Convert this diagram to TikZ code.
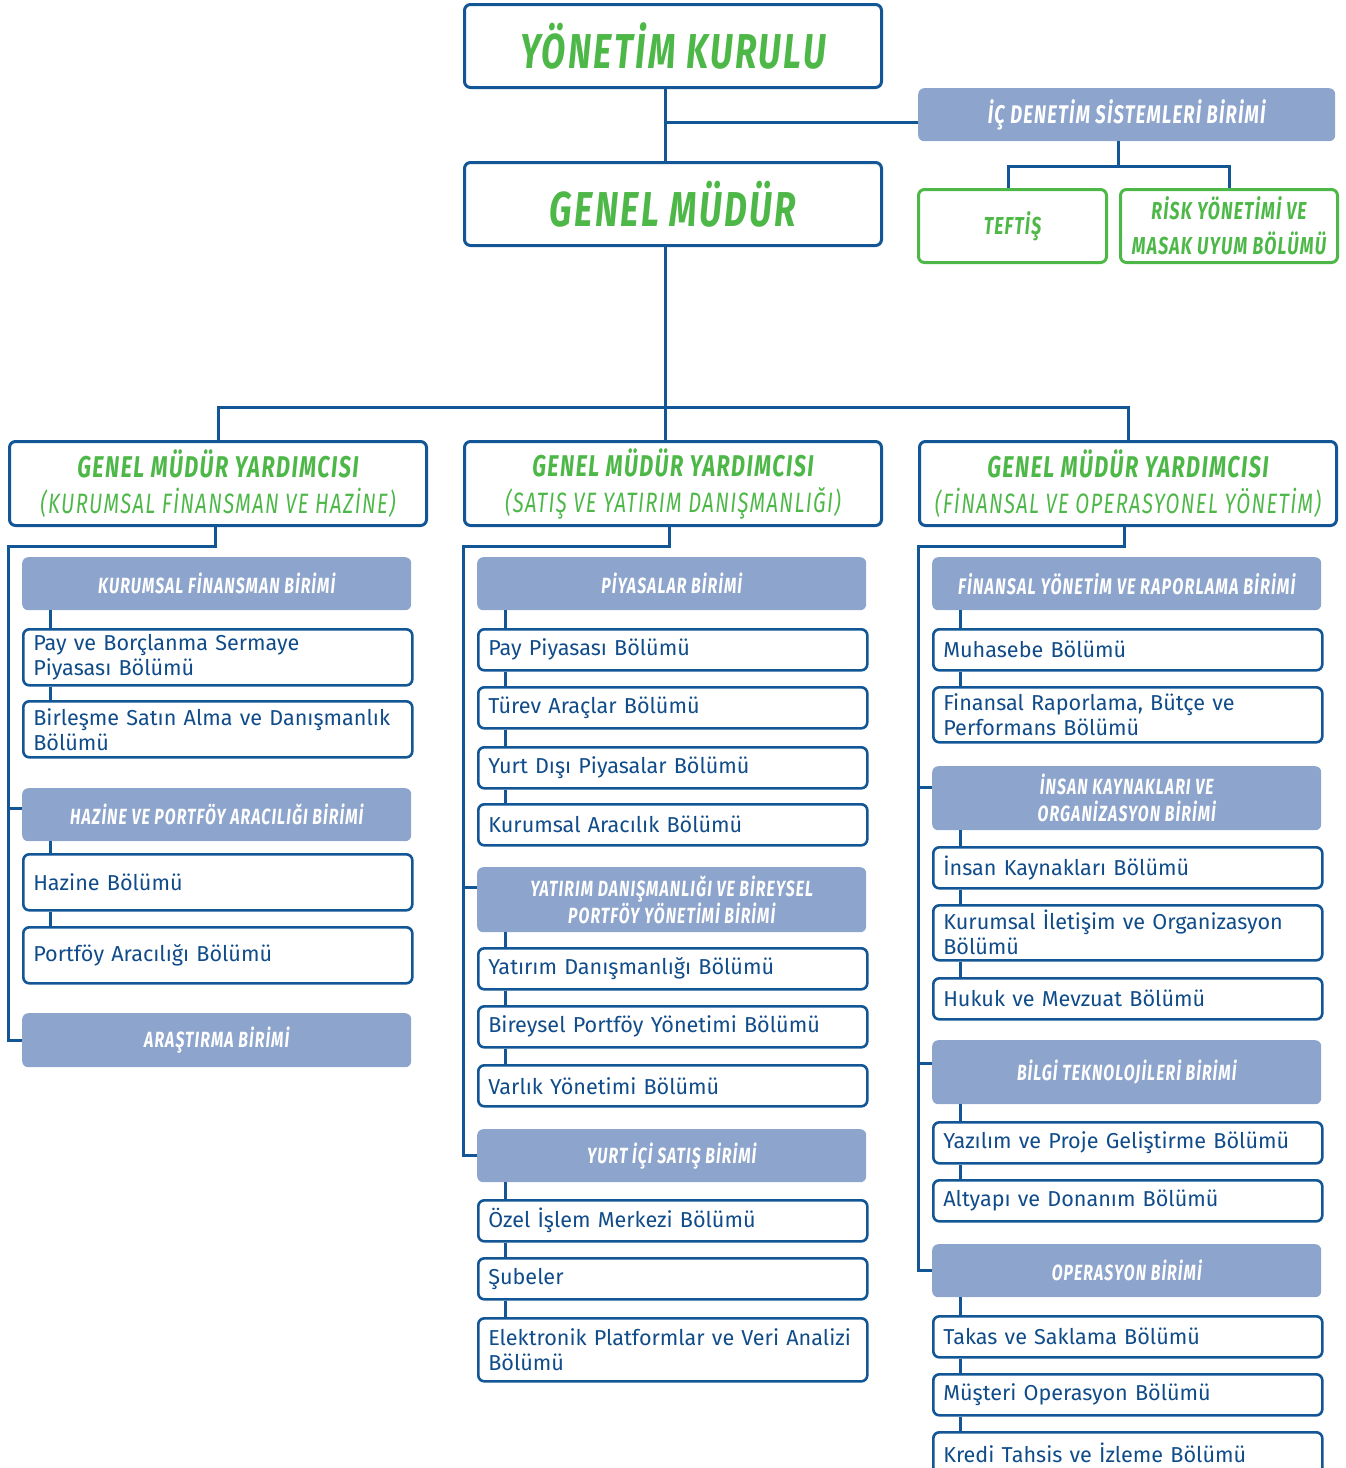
\documentclass[tikz,border=0pt]{standalone}
\usepackage{fontspec}
\setmainfont{Fira Sans}
\newfontfamily\hfont[FakeStretch=0.72,LetterSpace=5]{Fira Sans}
\definecolor{lineblue}{RGB}{18,86,150}
\definecolor{txtblue}{RGB}{16,76,138}
\definecolor{unitfill}{RGB}{141,164,204}
\definecolor{grn}{RGB}{77,184,72}
\tikzset{
  bx/.style={draw=lineblue, line width=3pt, rounded corners=6pt, fill=white, anchor=north west, inner sep=0pt},
  topbox/.style={bx, minimum width=417pt, minimum height=83pt, text=grn, font=\hfont\bfseries\itshape\fontsize{49}{56}\selectfont},
  gmybox/.style={bx, minimum width=417pt, minimum height=84pt, align=center, text=grn, font=\hfont\itshape\fontsize{28}{36}\selectfont},
  unit/.style={fill=unitfill, rounded corners=6pt, anchor=north west, inner sep=0pt, minimum width=389pt, align=center, text=white, font=\hfont\bfseries\itshape\fontsize{22}{27}\selectfont},
  sub/.style={bx, line width=2.6pt, minimum width=389pt, text width=369pt, inner xsep=10pt, align=left, text=txtblue, font=\fontsize{21.6}{25}\selectfont},
  gbox/.style={draw=grn, line width=3pt, rounded corners=6pt, anchor=north west, inner sep=0pt, align=center, text=grn, font=\hfont\bfseries\itshape\fontsize{24.5}{35}\selectfont},
  conn/.style={draw=lineblue, line width=3pt},
}
\begin{document}
\begin{tikzpicture}[x=1pt,y=-1pt]
\clip (0,0) rectangle (1345,1468);
\useasboundingbox (0,0) rectangle (1345,1468);
% top
\node[topbox] (ykb) at (463,3) {YÖNETİM KURULU};
\node[topbox] (gm) at (463,161) {GENEL MÜDÜR};
\node[unit, minimum width=417pt, minimum height=53pt, font=\hfont\bfseries\itshape\fontsize{25.5}{28}\selectfont] (icd) at (918,88) {İÇ DENETİM SİSTEMLERİ BİRİMİ};
\node[gbox, minimum width=188pt, minimum height=73pt] (tef) at (917,188) {TEFTİŞ};
\node[gbox, minimum width=217pt, minimum height=73pt] (risk) at (1119,188) {RİSK YÖNETİMİ VE\\MASAK UYUM BÖLÜMÜ};
% GMY
\node[gmybox] (gmy1) at (8,440) {{\fontsize{30}{36}\selectfont\bfseries GENEL MÜDÜR YARDIMCISI}\\(KURUMSAL FİNANSMAN VE HAZİNE)};
\node[gmybox] (gmy2) at (463,440) {{\fontsize{30}{36}\selectfont\bfseries GENEL MÜDÜR YARDIMCISI}\\(SATIŞ VE YATIRIM DANIŞMANLIĞI)};
\node[gmybox] (gmy3) at (918,440) {{\fontsize{30}{36}\selectfont\bfseries GENEL MÜDÜR YARDIMCISI}\\(FİNANSAL VE OPERASYONEL YÖNETİM)};
% left column
\node[unit, minimum height=53pt] (kfu) at (22,557) {KURUMSAL FİNANSMAN BİRİMİ};
\node[sub, minimum height=56pt] (pb) at (22,628) {Pay ve Borçlanma Sermaye\\Piyasası Bölümü};
\node[sub, minimum height=56pt] (bs) at (22,700) {Birleşme Satın Alma ve Danışmanlık\\Bölümü};
\node[unit, minimum height=53pt] (hpu) at (22,788) {HAZİNE VE PORTFÖY ARACILIĞI BİRİMİ};
\node[sub, minimum height=56pt] (hz) at (22,853) {Hazine Bölümü};
\node[sub, minimum height=56pt] (pa) at (22,926) {Portföy Aracılığı Bölümü};
\node[unit, minimum height=54pt] (aru) at (22,1013) {ARAŞTIRMA BİRİMİ};
% middle column
\node[unit, minimum height=53pt] (piu) at (477,557) {PİYASALAR BİRİMİ};
\node[sub, minimum height=41pt] (pp) at (477,628) {Pay Piyasası Bölümü};
\node[sub, minimum height=41pt] (tv) at (477,686) {Türev Araçlar Bölümü};
\node[sub, minimum height=41pt] (yd) at (477,746) {Yurt Dışı Piyasalar Bölümü};
\node[sub, minimum height=41pt] (ka) at (477,803) {Kurumsal Aracılık Bölümü};
\node[unit, minimum height=65pt] (ydu) at (477,867) {YATIRIM DANIŞMANLIĞI VE BİREYSEL\\PORTFÖY YÖNETİMİ BİRİMİ};
\node[sub, minimum height=41pt] (ydb) at (477,947) {Yatırım Danışmanlığı Bölümü};
\node[sub, minimum height=41pt] (bp) at (477,1005) {Bireysel Portföy Yönetimi Bölümü};
\node[sub, minimum height=41pt] (vy) at (477,1064) {Varlık Yönetimi Bölümü};
\node[unit, minimum height=53pt] (yiu) at (477,1129) {YURT İÇİ SATIŞ BİRİMİ};
\node[sub, minimum height=41pt] (oi) at (477,1199) {Özel İşlem Merkezi Bölümü};
\node[sub, minimum height=41pt] (sb) at (477,1257) {Şubeler};
\node[sub, minimum height=63pt] (el) at (477,1317) {Elektronik Platformlar ve Veri Analizi\\Bölümü};
% right column
\node[unit, minimum height=53pt, font=\hfont\bfseries\itshape\fontsize{22.5}{27}\selectfont] (fyu) at (932,557) {FİNANSAL YÖNETİM VE RAPORLAMA BİRİMİ};
\node[sub, minimum height=41pt] (mh) at (932,628) {Muhasebe Bölümü};
\node[sub, minimum height=55pt] (fr) at (932,686) {Finansal Raporlama, Bütçe ve\\Performans Bölümü};
\node[unit, minimum height=64pt] (iku) at (932,766) {İNSAN KAYNAKLARI VE\\ORGANİZASYON BİRİMİ};
\node[sub, minimum height=41pt] (ik) at (932,846) {İnsan Kaynakları Bölümü};
\node[sub, minimum height=55pt] (ki) at (932,904) {Kurumsal İletişim ve Organizasyon\\Bölümü};
\node[sub, minimum height=41pt] (hk) at (932,977) {Hukuk ve Mevzuat Bölümü};
\node[unit, minimum height=64pt] (btu) at (932,1040) {BİLGİ TEKNOLOJİLERİ BİRİMİ};
\node[sub, minimum height=41pt] (yz) at (932,1121) {Yazılım ve Proje Geliştirme Bölümü};
\node[sub, minimum height=41pt] (al) at (932,1179) {Altyapı ve Donanım Bölümü};
\node[unit, minimum height=53pt] (opu) at (932,1244) {OPERASYON BİRİMİ};
\node[sub, minimum height=41pt] (tk) at (932,1315) {Takas ve Saklama Bölümü};
\node[sub, minimum height=41pt] (ms) at (932,1373) {Müşteri Operasyon Bölümü};
\node[sub, minimum height=41pt] (kr) at (932,1431) {Kredi Tahsis ve İzleme Bölümü};
% connectors: top
\coordinate (trunk) at ([xshift=-8pt]ykb.south);
\coordinate (gmtop) at ([xshift=-8pt]gm.north);
\coordinate (gmbot) at ([xshift=-8pt]gm.south);
\draw[conn] (trunk) -- (gmtop);
\coordinate (icdin) at ([yshift=-8pt]icd.west);
\draw[conn] (icdin) -- (icdin -| trunk);
\coordinate (ib) at ([xshift=-8pt,yshift=-25pt]icd.south);
\draw[conn] ([xshift=-8pt]icd.south) -- (ib);
\draw[conn] ([xshift=-4pt]tef.north) |- (ib) -| (risk.north);
\path (gmbot) ++(0,160) coordinate (bus);
\draw[conn] (gmbot) -- (bus);
\draw[conn] (gmy1.north) |- (bus) -| (gmy3.north);
\draw[conn] (bus) -- (bus |- gmy2.north);
% left spine
\draw[conn] ([xshift=-3pt]gmy1.south) -- ++(0,19) -| (aru.west -| gmy1.west) -- (aru.west);
\coordinate (t1) at ([yshift=6pt]hpu.west);
\draw[conn] (t1 -| gmy1.west) -- (t1);
\draw[conn] ([xshift=28pt]kfu.south west) -- ([xshift=28pt]pb.north west);
\draw[conn] ([xshift=28pt]pb.south west) -- ([xshift=28pt]bs.north west);
\draw[conn] ([xshift=28pt]hpu.south west) -- ([xshift=28pt]hz.north west);
\draw[conn] ([xshift=28pt]hz.south west) -- ([xshift=28pt]pa.north west);
% middle spine
\draw[conn] ([xshift=-4pt]gmy2.south) -- ++(0,19) -| (yiu.west -| gmy2.west) -- (yiu.west);
\coordinate (t2) at ([yshift=12pt]ydu.west);
\draw[conn] (t2 -| gmy2.west) -- (t2);
\draw[conn] ([xshift=28pt]piu.south west) -- ([xshift=28pt]pp.north west);
\draw[conn] ([xshift=28pt]pp.south west) -- ([xshift=28pt]tv.north west);
\draw[conn] ([xshift=28pt]tv.south west) -- ([xshift=28pt]yd.north west);
\draw[conn] ([xshift=28pt]yd.south west) -- ([xshift=28pt]ka.north west);
\draw[conn] ([xshift=28pt]ydu.south west) -- ([xshift=28pt]ydb.north west);
\draw[conn] ([xshift=28pt]ydb.south west) -- ([xshift=28pt]bp.north west);
\draw[conn] ([xshift=28pt]bp.south west) -- ([xshift=28pt]vy.north west);
\draw[conn] ([xshift=28pt]yiu.south west) -- ([xshift=28pt]oi.north west);
\draw[conn] ([xshift=28pt]oi.south west) -- ([xshift=28pt]sb.north west);
\draw[conn] ([xshift=28pt]sb.south west) -- ([xshift=28pt]el.north west);
% right spine
\draw[conn] ([xshift=-4pt]gmy3.south) -- ++(0,19) -| (opu.west -| gmy3.west) -- (opu.west);
\coordinate (t3) at ([yshift=11pt]iku.west);
\draw[conn] (t3 -| gmy3.west) -- (t3);
\coordinate (t4) at ([yshift=9pt]btu.west);
\draw[conn] (t4 -| gmy3.west) -- (t4);
\draw[conn] ([xshift=28pt]fyu.south west) -- ([xshift=28pt]mh.north west);
\draw[conn] ([xshift=28pt]mh.south west) -- ([xshift=28pt]fr.north west);
\draw[conn] ([xshift=28pt]iku.south west) -- ([xshift=28pt]ik.north west);
\draw[conn] ([xshift=28pt]ik.south west) -- ([xshift=28pt]ki.north west);
\draw[conn] ([xshift=28pt]ki.south west) -- ([xshift=28pt]hk.north west);
\draw[conn] ([xshift=28pt]btu.south west) -- ([xshift=28pt]yz.north west);
\draw[conn] ([xshift=28pt]yz.south west) -- ([xshift=28pt]al.north west);
\draw[conn] ([xshift=28pt]opu.south west) -- ([xshift=28pt]tk.north west);
\draw[conn] ([xshift=28pt]tk.south west) -- ([xshift=28pt]ms.north west);
\draw[conn] ([xshift=28pt]ms.south west) -- ([xshift=28pt]kr.north west);
\end{tikzpicture}
\end{document}
